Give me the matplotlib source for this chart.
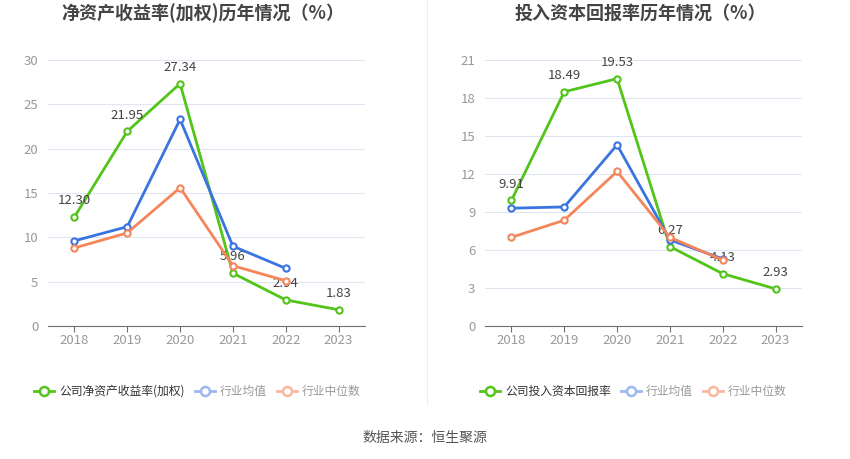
import numpy as np
import matplotlib.pyplot as plt

plt.rcParams['font.family'] = ['Noto Sans CJK SC', 'DejaVu Sans']

years = ['2018', '2019', '2020', '2021', '2022', '2023']

# left: ROE (weighted)
roe_company = [12.30, 21.95, 27.34, 5.96, 2.94, 1.83]
roe_avg = [9.6, 11.2, 23.3, 9.0, 6.5]
roe_median = [8.8, 10.5, 15.6, 6.8, 5.1]

# right: ROIC
roic_company = [9.91, 18.49, 19.53, 6.27, 4.13, 2.93]
roic_avg = [9.3, 9.4, 14.3, 6.8, 5.3]
roic_median = [7.0, 8.35, 12.2, 7.0, 5.2]

GREEN = '#52c41a'
BLUE = '#3a74e0'
ORANGE = '#f5855a'

fig = plt.figure(figsize=(8.5, 4.59), dpi=100)
W, H = 850, 459


def make_ax(x0, x1, y_top, y_bot):
    return fig.add_axes([x0 / W, 1 - y_bot / H, (x1 - x0) / W, (y_bot - y_top) / H])


def draw(ax, title, company, avg, median, ymax, step, legend_name, lx):
    x = np.arange(len(years))
    kw = dict(lw=2, marker='o', ms=4.5, mfc='white', mew=1.5, clip_on=False)
    ax.plot(x, company, color=GREEN, zorder=3, **kw)
    ax.plot(x[:len(avg)], avg, color=BLUE, zorder=5, **kw)
    ax.plot(x[:len(median)], median, color=ORANGE, zorder=6, **kw)
    for xi, v in zip(x, company):
        ax.annotate(f'{v:.2f}', (xi, v), xytext=(0, 7), textcoords='offset points',
                    ha='center', va='bottom', fontsize=9.5, color='#444444', zorder=4)
    ax.set_xlim(-0.5, len(years) - 0.5)
    ax.set_ylim(0, ymax)
    ax.set_yticks(np.arange(0, ymax + 0.1, step))
    ax.set_xticks(x)
    ax.set_xticklabels(years)
    ax.grid(axis='y', color='#e0e6f1', lw=0.8)
    ax.set_axisbelow(True)
    for s in ['top', 'right', 'left']:
        ax.spines[s].set_visible(False)
    ax.spines['bottom'].set_color('#6e7079')
    ax.tick_params(axis='y', length=0, colors='#999999', labelsize=9.5, pad=7)
    ax.tick_params(axis='x', length=4, color='#6e7079', labelcolor='#999999',
                   labelsize=9.5, pad=2)
    cx = (ax.get_position().x0 + ax.get_position().x1) / 2
    fig.text(cx - 0.004, 1 - 13 / H, title, ha='center', va='center', fontsize=13,
             fontweight='bold', color='#444444')

    # legend drawn by hand
    ly = 1 - 391 / H
    items = [(legend_name, GREEN, '#333333'), ('行业均值', '#9db8ef', '#999999'),
             ('行业中位数', '#f8b8a0', '#999999')]
    xpos = lx
    for name, c, tc in items:
        fig.add_artist(plt.Line2D([xpos / W, (xpos + 20) / W], [ly, ly], color=c, lw=2,
                                  transform=fig.transFigure))
        fig.add_artist(plt.Line2D([(xpos + 10) / W], [ly], color=c, marker='o', ms=6.5,
                                  mfc='white', mew=1.8, transform=fig.transFigure))
        t = fig.text((xpos + 25) / W, ly, name, ha='left', va='center', fontsize=8.5,
                     color=tc)
        fig.canvas.draw()
        bb = t.get_window_extent()
        xpos = bb.x1 + 10


ax1 = make_ax(48, 365, 60, 326)
ax2 = make_ax(485, 802, 60, 326)
draw(ax1, '净资产收益率(加权)历年情况（%）', roe_company, roe_avg, roe_median, 30, 5,
     '公司净资产收益率(加权)', 34)
draw(ax2, '投入资本回报率历年情况（%）', roic_company, roic_avg, roic_median, 21, 3,
     '公司投入资本回报率', 480)

fig.add_artist(plt.Line2D([427 / W, 427 / W], [1 - 405 / H, 1], color='#eeeeee', lw=0.8,
                          transform=fig.transFigure))
fig.text(0.5, 1 - 438 / H, '数据来源：恒生聚源', ha='center', va='center', fontsize=10,
         color='#555555')

fig.savefig('out.png', dpi=100)
